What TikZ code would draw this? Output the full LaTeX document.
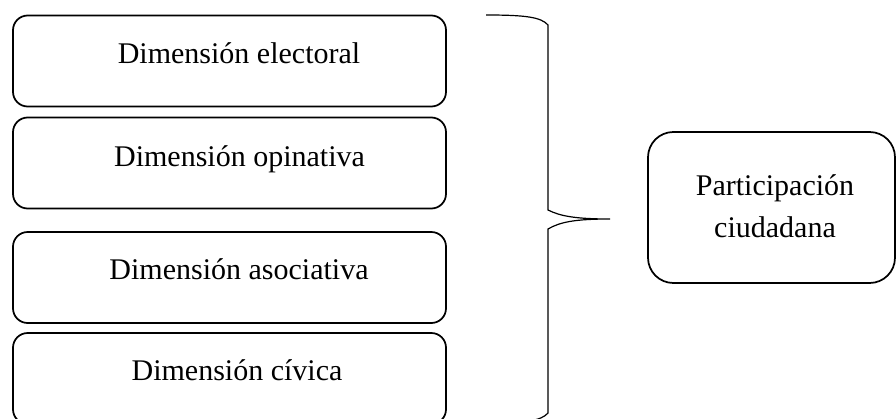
\documentclass[tikz,border=0pt]{standalone}
\usepackage{fontspec}
\setmainfont{Liberation Serif}

\begin{document}
\begin{tikzpicture}[
    x=0.75pt, y=-0.75pt,
    dim box/.style={rounded corners=11pt, draw, line width=1.3pt,
      minimum width=0.75*433pt, minimum height=0.75*91pt, inner sep=0pt},
    big box/.style={rounded corners=19pt, draw, line width=1.3pt,
      minimum width=0.75*247pt, minimum height=0.75*151pt, inner sep=0pt},
    box text/.style={anchor=base, inner sep=0pt,
      font=\fontsize{22.5}{27}\selectfont},
    brace line/.style={draw, line width=0.9pt}
]
\useasboundingbox (0,0) rectangle (896,418);
% left column
\node[dim box] (DE) at (229.5,61) {};
\node[dim box] (DO) at (229.5,163) {};
\node[dim box] (DA) at (229.5,277.5) {};
\node[dim box] (DC) at (229.5,378.5) {};
\node[box text] (DEt) at (239,63) {Dimensión electoral};
\node[box text] (DOt) at (239.5,166) {Dimensión opinativa};
\node[box text] (DAt) at (239,279) {Dimensión asociativa};
\node[box text] (DCt) at (237,380) {Dimensión cívica};
% right box
\node[big box] (P) at (771.5,207.5) {};
\node[box text] (Pt1) at (775,195) {Participación};
\node[box text] (Pt2) at (775,237) {ciudadana};
% brace
\coordinate (tip) at (610,219);
\draw[brace line] (486,15) .. controls (525,15) and (541,17) .. (548,25)
  -- (548,210) .. controls (560,216) and (575,219) .. (tip)
  (tip) .. controls (575,219) and (560,222) .. (548,229)
  -- (548,413) .. controls (541,421) and (525,423) .. (486,423);
\end{tikzpicture}
\end{document}
